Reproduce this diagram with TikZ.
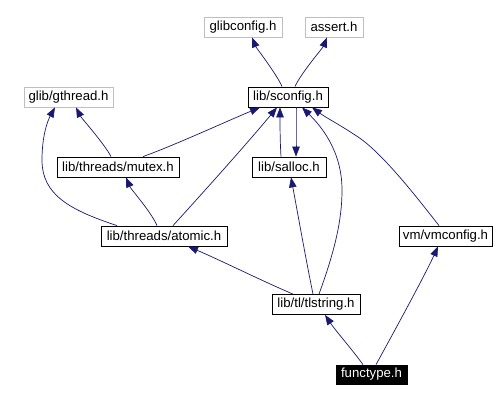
\documentclass[tikz,border=0pt]{standalone}
\usepackage{fontspec}
\setmainfont{Liberation Sans}
\usetikzlibrary{arrows.meta}
\definecolor{edgeblue}{HTML}{191970}
\definecolor{greyline}{HTML}{BFBFBF}
\begin{document}
\begin{tikzpicture}[x=1pt,y=-1pt,
  box/.style={draw=black,line width=0.8pt,inner sep=0pt,minimum height=20pt,
    font=\fontsize{13.2}{15}\selectfont,text=black},
  extbox/.style={box,draw=greyline},
  curbox/.style={box,fill=black,text=white},
  dep/.style={draw=edgeblue,line width=0.7pt,-{Triangle[length=10pt,width=7.5pt]}}
]
\useasboundingbox[fill=white] (0,0) rectangle (497,401);
\node[extbox,minimum width=78pt] (glibconfig) at (243,27) {glibconfig.h};
\node[extbox,minimum width=58pt] (assert) at (334,27) {assert.h};
\node[box,minimum width=80pt] (sconfig) at (288,97) {lib/sconfig.h};
\node[extbox,minimum width=89pt] (gthread) at (68.5,97) {glib/gthread.h};
\node[box,minimum width=122pt] (mutex) at (118,167) {lib/threads/mutex.h};
\node[box,minimum width=74pt] (salloc) at (289,167) {lib/salloc.h};
\node[box,minimum width=126pt] (atomic) at (164,236) {lib/threads/atomic.h};
\node[box,minimum width=93pt] (vmconfig) at (445.5,236) {vm/vmconfig.h};
\node[box,minimum width=88pt] (tlstring) at (316,304.5) {lib/tl/tlstring.h};
\node[curbox,minimum width=71pt,minimum height=19pt] (functype) at (371.5,374.5) {functype.h};

\draw[dep] ([xshift=-6pt]sconfig.north) .. controls +(-5,-12) and +(4,10) .. ([xshift=9pt]glibconfig.south);
\draw[dep] ([xshift=7pt]sconfig.north) .. controls +(5,-12) and +(-4,10) .. ([xshift=-7pt]assert.south);
\draw[dep] ([xshift=-7pt]mutex.north) .. controls +(-6,-12) and +(5,10) .. ([xshift=7.5pt]gthread.south);
\draw[dep] ([xshift=-47pt]atomic.north) .. controls (70,210) and (42,195) .. (42,160)
  .. controls (42,135) and (48,120) .. ([xshift=-13.5pt]gthread.south);
\draw[dep] ([xshift=25pt]mutex.north) .. controls (175,145) and (225,122) .. ([xshift=-28pt]sconfig.south);
\draw[dep] ([xshift=-7pt]atomic.north) .. controls +(-6,-14) and +(5,12) .. ([xshift=8pt]mutex.south);
\draw[dep] ([xshift=9pt]atomic.north) .. controls (210,185) and (250,140) .. ([xshift=-11pt]sconfig.south);
\draw[dep] ([xshift=-8pt]salloc.north) .. controls +(-1,-15) and +(0,15) .. ([xshift=-8pt]sconfig.south);
\draw[dep] ([xshift=8pt]sconfig.south) .. controls +(0,15) and +(0,-15) .. ([xshift=7pt]salloc.north);
\draw[dep] ([xshift=-3pt]tlstring.north) .. controls (306,260) and (298,215) .. ([xshift=2pt]salloc.south);
\draw[dep] ([xshift=3pt]tlstring.north) .. controls (335,250) and (342,220) .. (342,190)
  .. controls (342,150) and (320,125) .. ([xshift=14pt]sconfig.south);
\draw[dep] ([xshift=-23pt]tlstring.north) .. controls (260,280) and (220,260) .. ([xshift=24pt]atomic.south);
\draw[dep] ([xshift=-6.5pt]vmconfig.north) .. controls (415,195) and (380,150) .. (355,135)
  .. controls (340,125) and (325,117) .. ([xshift=24pt]sconfig.south);
\draw[dep] ([xshift=-8.5pt]functype.north) .. controls +(-10,-14) and +(10,15) .. ([xshift=9pt]tlstring.south);
\draw[dep] ([xshift=4.5pt]functype.north) .. controls (395,330) and (425,275) .. ([xshift=-7.5pt]vmconfig.south);
\end{tikzpicture}
\end{document}
